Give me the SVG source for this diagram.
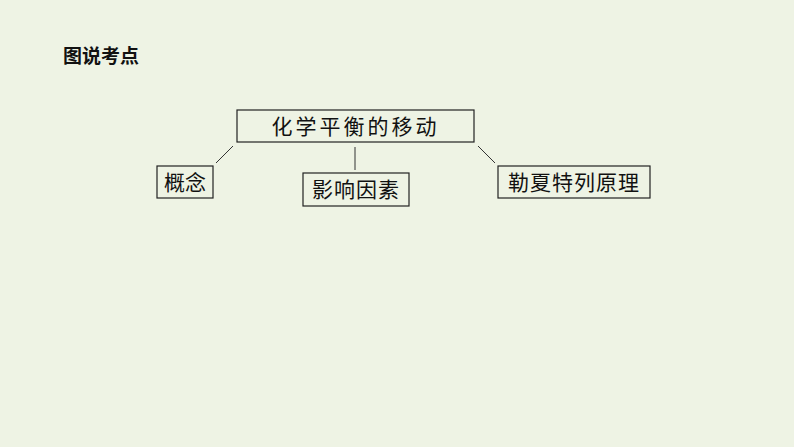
<svg xmlns="http://www.w3.org/2000/svg" width="794" height="447" viewBox="0 0 794 447">
<style>
.b{fill:none;stroke:#222;stroke-width:1.2}
.t{font-family:"Noto Sans CJK SC",sans-serif;font-size:21px;fill:#111;text-anchor:middle}
.c{stroke:#333;stroke-width:1}
</style>
<rect width="794" height="447" fill="#eef3e4"/>
<text x="63" y="63" style="font-family:'Noto Sans CJK SC',sans-serif;font-size:19px;font-weight:bold;fill:#111">图说考点</text>
<g id="connectors">
<line class="c" x1="233" y1="146" x2="216" y2="163"/>
<line class="c" x1="355" y1="147" x2="355" y2="170"/>
<line class="c" x1="478" y1="146" x2="495" y2="163"/>
</g>
<g id="main"><rect class="b" x="237" y="110" width="237" height="32"/><text class="t" x="355.5" y="134" letter-spacing="3">化学平衡的移动</text></g>
<g id="n1"><rect class="b" x="157" y="166" width="56" height="32"/><text class="t" x="185" y="190">概念</text></g>
<g id="n2"><rect class="b" x="303" y="173" width="106" height="33"/><text class="t" x="356" y="197" letter-spacing="1">影响因素</text></g>
<g id="n3"><rect class="b" x="498" y="166" width="152" height="32"/><text class="t" x="574" y="190" letter-spacing="1">勒夏特列原理</text></g>
</svg>
